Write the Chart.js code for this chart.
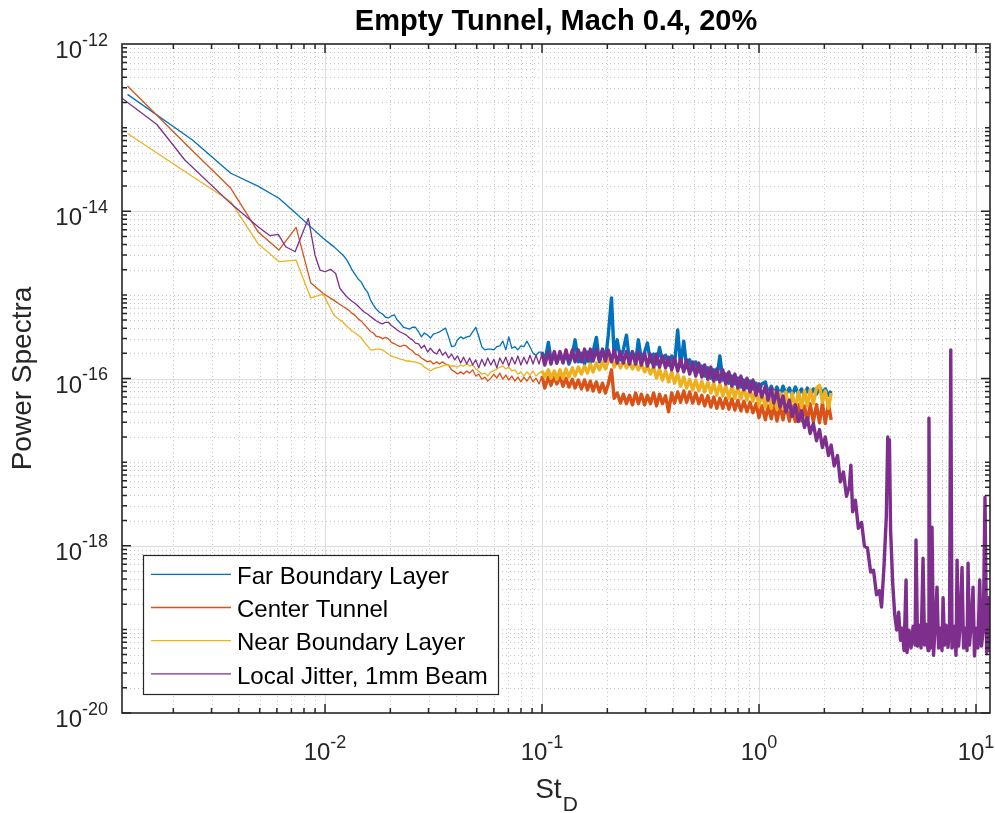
<!DOCTYPE html>
<html>
<head>
<meta charset="utf-8">
<title>Empty Tunnel, Mach 0.4, 20%</title>
<script src="https://cdn.jsdelivr.net/npm/chart.js@4.4.1/dist/chart.umd.min.js"></script>
<style>
  html, body { margin: 0; padding: 0; background: #fff; }
  canvas { display: block; }
</style>
</head>
<body>
<canvas id="spectraChart" width="995" height="813"></canvas>
<script>
// Strouhal number bins shared by the three tunnel probes
const stTunnel = [
  0.00123, 0.00245, 0.00368, 0.00491, 0.00613, 0.00736, 0.00859, 0.00981, 0.0110,
  0.0121, 0.0125, 0.0129, 0.0133, 0.0138, 0.0142, 0.0147, 0.0152, 0.0157, 0.0162,
  0.0167, 0.0172, 0.0178, 0.0184, 0.0190, 0.0196, 0.0202, 0.0209, 0.0215, 0.0222,
  0.0230, 0.0237, 0.0245, 0.0253, 0.0261, 0.0270, 0.0278, 0.0287, 0.0297, 0.0306,
  0.0316, 0.0327, 0.0337, 0.0348, 0.0359, 0.0371, 0.0383, 0.0396, 0.0408, 0.0422,
  0.0435, 0.0450, 0.0464, 0.0479, 0.0495, 0.0511, 0.0528, 0.0545, 0.0562, 0.0581,
  0.0600, 0.0619, 0.0639, 0.0660, 0.0681, 0.0703, 0.0726, 0.0750, 0.0774, 0.0799,
  0.0825, 0.0852, 0.0880, 0.0909, 0.0938, 0.0969,
  0.100, 0.103, 0.107, 0.110, 0.114, 0.117, 0.121, 0.125, 0.129, 0.133,
  0.138, 0.142, 0.147, 0.152, 0.157, 0.162, 0.167, 0.172, 0.178, 0.184,
  0.190, 0.196, 0.202, 0.209, 0.215, 0.222, 0.230, 0.237, 0.245, 0.253,
  0.261, 0.270, 0.278, 0.287, 0.297, 0.306, 0.316, 0.327, 0.337, 0.348,
  0.359, 0.371, 0.383, 0.396, 0.408, 0.422, 0.435, 0.450, 0.464, 0.479,
  0.495, 0.511, 0.528, 0.545, 0.562, 0.581, 0.600, 0.619, 0.639, 0.660,
  0.681, 0.703, 0.726, 0.750, 0.774, 0.799, 0.825, 0.852, 0.880, 0.909,
  0.938, 0.969,
  1.00, 1.03, 1.07, 1.10, 1.14, 1.17, 1.21, 1.25, 1.29, 1.33,
  1.38, 1.42, 1.47, 1.52, 1.57, 1.62, 1.67, 1.72, 1.78, 1.84,
  1.90, 1.96, 2.02, 2.09, 2.15
];

const farBoundary = [
  2.5e-13, 7.1e-14, 2.85e-14, 2.0e-14, 1.43e-14, 9.4e-15, 6.5e-15, 4.75e-15, 3.75e-15,
  3.0e-15, 2.7e-15, 2.35e-15, 2.0e-15, 1.73e-15, 1.55e-15, 1.42e-15, 1.2e-15, 1.08e-15, 8.7e-16,
  7.6e-16, 6.8e-16, 6.2e-16, 5.9e-16, 5.4e-16, 5.3e-16, 5.6e-16, 5.75e-16, 5.0e-16, 4.6e-16,
  4.1e-16, 4.0e-16, 3.9e-16, 4.1e-16, 4.1e-16, 3.6e-16, 3.15e-16, 3.5e-16, 3.3e-16, 3.05e-16,
  3.4e-16, 3.5e-16, 3.6e-16, 3.8e-16, 4.0e-16, 3.15e-16, 2.4e-16, 2.45e-16, 2.9e-16, 3.15e-16,
  3.0e-16, 3.15e-16, 3.2e-16, 3.6e-16, 4.1e-16, 3.2e-16, 2.4e-16, 2.2e-16, 2.25e-16, 2.25e-16,
  2.2e-16, 2.4e-16, 2.45e-16, 2.8e-16, 2.2e-16, 3.15e-16, 2.3e-16, 2.4e-16, 2.2e-16, 2.45e-16,
  2.4e-16, 2.8e-16, 2.4e-16, 2.0e-16, 1.9e-16, 2.07e-16,
  2.07e-16, 1.58e-16, 2.7e-16, 1.67e-16, 2.0e-16, 1.53e-16, 1.96e-16, 1.58e-16, 2.07e-16, 1.49e-16,
  1.9e-16, 2.9e-16, 1.58e-16, 2.0e-16, 1.49e-16, 2.07e-16, 1.53e-16, 2.1e-16, 3.1e-16, 1.58e-16,
  2.2e-16, 1.62e-16, 3.3e-16, 9.2e-16, 1.86e-16, 2.9e-16, 1.67e-16, 2.2e-16, 3.3e-16, 1.62e-16,
  2.1e-16, 1.58e-16, 2.9e-16, 1.67e-16, 2.07e-16, 2.65e-16, 1.58e-16, 1.96e-16, 1.49e-16, 2.35e-16,
  1.58e-16, 1.9e-16, 1.45e-16, 1.86e-16, 1.49e-16, 3.8e-16, 1.41e-16, 2.8e-16, 1.34e-16, 1.67e-16,
  1.27e-16, 1.58e-16, 1.2e-16, 1.41e-16, 1.07e-16, 1.34e-16, 1.01e-16, 1.27e-16, 9.8e-17, 1.86e-16,
  9.6e-17, 1.13e-16, 8.8e-17, 1.07e-16, 8.6e-17, 1.01e-16, 7.9e-17, 9.6e-17, 7.7e-17, 9.3e-17,
  7.5e-17, 8.8e-17,
  7.1e-17, 8.6e-17, 9.1e-17, 6.7e-17, 8.1e-17, 6.5e-17, 7.9e-17, 6.3e-17, 8.1e-17, 6.5e-17,
  7.7e-17, 6.3e-17, 7.9e-17, 6.5e-17, 7.5e-17, 6.2e-17, 7.7e-17, 6.3e-17, 7.5e-17, 6.5e-17,
  7.9e-17, 6.7e-17, 7.5e-17, 6.3e-17, 7.1e-17
];

const centerTunnel = [
  3.15e-13, 5.3e-14, 1.88e-14, 5.7e-15, 3.43e-15, 6.4e-15, 1.4e-15, 1.04e-15, 8.6e-16,
  7.25e-16, 6.9e-16, 6.5e-16, 6.05e-16, 5.65e-16, 5.2e-16, 4.85e-16, 4.4e-16, 4.0e-16, 3.65e-16,
  3.5e-16, 3.2e-16, 3.15e-16, 3.0e-16, 3.1e-16, 3.0e-16, 2.7e-16, 2.6e-16, 2.5e-16, 2.4e-16,
  2.5e-16, 2.45e-16, 2.25e-16, 2.15e-16, 1.96e-16, 1.9e-16, 1.76e-16, 1.67e-16, 1.58e-16, 1.62e-16,
  1.49e-16, 1.58e-16, 1.49e-16, 1.58e-16, 1.49e-16, 1.45e-16, 1.27e-16, 1.2e-16, 1.13e-16, 1.2e-16,
  1.13e-16, 1.23e-16, 1.16e-16, 1.27e-16, 1.07e-16, 1.13e-16, 9.8e-17, 1.04e-16, 9.3e-17, 1.01e-16,
  1.13e-16, 1.01e-16, 1.16e-16, 9.8e-17, 1.1e-16, 9.6e-17, 1.07e-16, 9.3e-17, 1.04e-16, 9.1e-17,
  1.04e-16, 9.3e-17, 1.07e-16, 9.1e-17, 1.01e-16, 8.6e-17,
  1.07e-16, 7.7e-17, 1.04e-16, 8.3e-17, 1.07e-16, 8.6e-17, 1.04e-16, 8.1e-17, 1.01e-16, 7.9e-17,
  9.8e-17, 7.7e-17, 9.6e-17, 7.5e-17, 9.6e-17, 7.3e-17, 9.3e-17, 7.1e-17, 9.1e-17, 6.9e-17,
  8.8e-17, 6.7e-17, 8.6e-17, 1.27e-16, 5.8e-17, 6.7e-17, 5.1e-17, 6.5e-17, 5.0e-17, 6.3e-17,
  4.85e-17, 6.7e-17, 5.0e-17, 6.5e-17, 4.85e-17, 6.3e-17, 5.0e-17, 6.7e-17, 4.7e-17, 6.5e-17,
  5.0e-17, 6.2e-17, 4.0e-17, 6.7e-17, 5.1e-17, 6.9e-17, 5.2e-17, 7.1e-17, 5.2e-17, 6.9e-17,
  5.1e-17, 6.7e-17, 5.0e-17, 6.3e-17, 4.7e-17, 6.2e-17, 4.55e-17, 6.0e-17, 4.4e-17, 5.8e-17,
  4.4e-17, 5.8e-17, 4.3e-17, 5.7e-17, 4.2e-17, 5.5e-17, 4.1e-17, 5.35e-17, 4.0e-17, 5.2e-17,
  3.9e-17, 5.0e-17,
  3.4e-17, 4.7e-17, 3.2e-17, 4.7e-17, 3.3e-17, 4.85e-17, 3.1e-17, 4.7e-17, 3.2e-17, 4.85e-17,
  3.1e-17, 4.7e-17, 3.05e-17, 4.85e-17, 3.1e-17, 4.7e-17, 2.95e-17, 5.0e-17, 3.05e-17, 4.85e-17,
  2.95e-17, 5.1e-17, 2.9e-17, 5.0e-17, 3.2e-17
];

const nearBoundary = [
  8.5e-14, 2.6e-14, 1.3e-14, 4.1e-15, 2.5e-15, 2.6e-15, 9.2e-16, 1.02e-15, 5.7e-16,
  4.7e-16, 4.3e-16, 4.0e-16, 3.7e-16, 3.5e-16, 3.3e-16, 3.05e-16, 2.7e-16, 2.45e-16, 2.2e-16,
  2.2e-16, 2.25e-16, 2.25e-16, 2.2e-16, 2.07e-16, 1.96e-16, 1.86e-16, 1.8e-16, 1.76e-16, 1.7e-16,
  1.67e-16, 1.62e-16, 1.62e-16, 1.58e-16, 1.58e-16, 1.53e-16, 1.49e-16, 1.37e-16, 1.3e-16, 1.23e-16,
  1.3e-16, 1.34e-16, 1.37e-16, 1.41e-16, 1.45e-16, 1.45e-16, 1.41e-16, 1.41e-16, 1.37e-16, 1.45e-16,
  1.41e-16, 1.49e-16, 1.41e-16, 1.45e-16, 1.3e-16, 1.23e-16, 1.13e-16, 1.16e-16, 1.07e-16, 1.2e-16,
  1.23e-16, 1.3e-16, 1.37e-16, 1.41e-16, 1.3e-16, 1.37e-16, 1.23e-16, 1.27e-16, 1.13e-16, 1.2e-16,
  1.07e-16, 1.2e-16, 1.1e-16, 1.23e-16, 1.07e-16, 1.16e-16,
  1.23e-16, 1.04e-16, 1.27e-16, 1.01e-16, 1.23e-16, 9.8e-17, 1.27e-16, 1.01e-16, 1.3e-16, 1.04e-16,
  1.34e-16, 1.07e-16, 1.37e-16, 1.13e-16, 1.41e-16, 1.16e-16, 1.49e-16, 1.2e-16, 1.53e-16, 1.27e-16,
  1.58e-16, 1.3e-16, 1.62e-16, 1.86e-16, 1.37e-16, 1.67e-16, 1.34e-16, 1.62e-16, 1.34e-16, 1.58e-16,
  1.3e-16, 1.53e-16, 1.27e-16, 1.49e-16, 1.2e-16, 1.41e-16, 1.13e-16, 1.37e-16, 1.01e-16, 1.3e-16,
  9.6e-17, 1.23e-16, 9.1e-17, 1.2e-16, 8.8e-17, 1.13e-16, 8.1e-17, 1.04e-16, 7.7e-17, 9.8e-17,
  7.3e-17, 9.6e-17, 7.1e-17, 9.3e-17, 6.9e-17, 9.1e-17, 6.7e-17, 8.8e-17, 6.3e-17, 8.6e-17,
  6.2e-17, 8.3e-17, 5.8e-17, 8.1e-17, 5.8e-17, 7.9e-17, 5.7e-17, 7.7e-17, 5.5e-17, 7.5e-17,
  5.35e-17, 7.3e-17,
  4.7e-17, 6.9e-17, 4.55e-17, 6.7e-17, 4.4e-17, 6.9e-17, 4.3e-17, 6.7e-17, 4.4e-17, 6.9e-17,
  4.3e-17, 6.7e-17, 4.4e-17, 6.9e-17, 4.55e-17, 7.1e-17, 4.7e-17, 7.3e-17, 5.0e-17, 7.7e-17,
  8.3e-17, 5.2e-17, 7.1e-17, 4.4e-17, 6.7e-17
];

// beam jitter was sampled on its own frequency grid and runs out to St = 11.7
const stJitter = [
  0.00116, 0.00168, 0.00226, 0.00365, 0.00493, 0.00558, 0.00609, 0.00659, 0.00728, 0.00838,
  0.00899, 0.00948, 0.0100, 0.0106, 0.0112, 0.0117,
  0.0125, 0.0129, 0.0133, 0.0138, 0.0142, 0.0147, 0.0152, 0.0157, 0.0162,
  0.0167, 0.0172, 0.0178, 0.0184, 0.0190, 0.0196, 0.0202, 0.0209, 0.0215, 0.0222,
  0.0230, 0.0237, 0.0245, 0.0253, 0.0261, 0.0270, 0.0278, 0.0287, 0.0297, 0.0306,
  0.0316, 0.0327, 0.0337, 0.0348, 0.0359, 0.0371, 0.0383, 0.0396, 0.0408, 0.0422,
  0.0435, 0.0450, 0.0464, 0.0479, 0.0495, 0.0511, 0.0528, 0.0545, 0.0562, 0.0581,
  0.0600, 0.0619, 0.0639, 0.0660, 0.0681, 0.0703, 0.0726, 0.0750, 0.0774, 0.0799,
  0.0825, 0.0852, 0.0880, 0.0909, 0.0938, 0.0969,
  0.100, 0.103, 0.107, 0.110, 0.114, 0.117, 0.121, 0.125, 0.129, 0.133,
  0.138, 0.142, 0.147, 0.152, 0.157, 0.162, 0.167, 0.172, 0.178, 0.184,
  0.190, 0.196, 0.202, 0.209, 0.215, 0.222, 0.230, 0.237, 0.245, 0.253,
  0.261, 0.270, 0.278, 0.287, 0.297, 0.306, 0.316, 0.327, 0.337, 0.348,
  0.359, 0.371, 0.383, 0.396, 0.408, 0.422, 0.435, 0.450, 0.464, 0.479,
  0.495, 0.511, 0.528, 0.545, 0.562, 0.581, 0.600, 0.619, 0.639, 0.660,
  0.681, 0.703, 0.726, 0.750, 0.774, 0.799, 0.825, 0.852, 0.880, 0.909,
  0.938, 0.969,
  1.00, 1.03, 1.07, 1.10, 1.14, 1.17, 1.21, 1.25, 1.29, 1.33,
  1.38, 1.42, 1.47, 1.52, 1.57, 1.62, 1.67, 1.72, 1.78, 1.84,
  1.90, 1.96, 2.02, 2.09, 2.15, 2.22, 2.30, 2.37, 2.45, 2.53,
  2.61, 2.65,
  2.70, 2.78, 2.87, 2.97, 3.06, 3.16, 3.27, 3.37, 3.48, 3.59,
  3.67, 3.77, 3.86, 3.92, 3.95, 3.99, 4.04, 4.13, 4.22, 4.31, 4.40, 4.49,
  4.56, 4.66, 4.76, 4.81, 4.91, 5.02, 5.13, 5.24, 5.29, 5.38,
  5.46, 5.58, 5.70, 5.79, 5.88, 6.01, 6.07, 6.16, 6.27, 6.37,
  6.47, 6.61, 6.72, 6.83, 6.97, 7.05, 7.16, 7.28, 7.43, 7.55,
  7.65, 7.75, 7.92, 8.09, 8.18, 8.31, 8.44, 8.62, 8.76, 8.90,
  9.09, 9.19, 9.33, 9.48, 9.69, 9.84, 10.0, 10.2, 10.4, 10.6,
  10.8, 11.0, 11.2, 11.4, 11.5, 11.7
];

const localJitter = [
  2.25e-13, 1.09e-13, 4.1e-14, 1.26e-14, 6.5e-15, 5.1e-15, 5.3e-15, 3.76e-15, 3.28e-15, 8.2e-15,
  3.0e-15, 1.98e-15, 1.89e-15, 2.02e-15, 1.8e-15, 1.2e-15,
  9.7e-16, 9.0e-16, 8.4e-16, 7.9e-16, 7.35e-16, 6.7e-16, 6.2e-16, 5.9e-16, 5.5e-16, 5.2e-16,
  4.9e-16, 4.65e-16, 4.5e-16, 4.7e-16, 4.7e-16, 4.3e-16, 4.05e-16, 3.8e-16, 3.6e-16, 3.45e-16,
  3.3e-16, 3.05e-16, 2.9e-16, 2.65e-16, 2.6e-16, 2.3e-16, 2.5e-16, 2.07e-16, 2.3e-16, 2.07e-16,
  1.96e-16, 2.25e-16, 1.9e-16, 2.07e-16, 1.76e-16, 1.96e-16, 1.67e-16, 1.86e-16, 1.53e-16, 1.8e-16,
  1.49e-16, 1.76e-16, 1.45e-16, 1.67e-16, 1.34e-16, 1.7e-16, 1.41e-16, 1.76e-16, 1.45e-16, 1.7e-16,
  1.34e-16, 1.76e-16, 1.49e-16, 1.8e-16, 1.41e-16, 1.8e-16, 1.49e-16, 1.86e-16, 1.45e-16, 1.8e-16,
  1.49e-16, 1.9e-16, 1.49e-16, 1.9e-16, 1.49e-16,
  2.0e-16, 1.45e-16, 2.07e-16, 1.49e-16, 2.1e-16, 1.53e-16, 2.1e-16, 1.53e-16, 2.2e-16, 1.58e-16,
  2.2e-16, 1.58e-16, 2.2e-16, 1.58e-16, 2.25e-16, 1.62e-16, 2.25e-16, 1.62e-16, 2.25e-16, 1.62e-16,
  2.25e-16, 1.62e-16, 2.2e-16, 1.58e-16, 2.2e-16, 1.53e-16, 2.1e-16, 1.53e-16, 2.1e-16, 1.49e-16,
  2.07e-16, 1.49e-16, 2.07e-16, 1.45e-16, 2.0e-16, 1.41e-16, 1.96e-16, 1.37e-16, 1.96e-16, 1.37e-16,
  1.86e-16, 1.34e-16, 1.8e-16, 1.27e-16, 1.76e-16, 1.23e-16, 1.7e-16, 1.2e-16, 1.67e-16, 1.13e-16,
  1.58e-16, 1.07e-16, 1.53e-16, 1.04e-16, 1.45e-16, 9.8e-17, 1.37e-16, 9.3e-17, 1.3e-16, 9.1e-17,
  1.27e-16, 8.6e-17, 1.2e-16, 8.1e-17, 1.13e-16, 7.7e-17, 1.07e-16, 7.3e-17, 1.01e-16, 6.9e-17,
  9.6e-17, 6.3e-17,
  8.6e-17, 6.0e-17, 8.1e-17, 5.5e-17, 7.7e-17, 5.1e-17, 7.1e-17, 4.55e-17, 6.2e-17, 4.0e-17,
  5.5e-17, 3.5e-17, 4.85e-17, 3.05e-17, 4.1e-17, 2.6e-17, 3.4e-17, 2.2e-17, 2.9e-17, 1.8e-17,
  2.45e-17, 1.49e-17, 2.0e-17, 1.2e-17, 1.6e-17, 9.0e-18, 1.2e-17, 5.8e-18, 7.6e-18, 3.9e-18,
  5.2e-18, 9.2e-18,
  2.55e-18, 3.5e-18, 1.62e-18, 1.9e-18, 9.9e-19, 9.4e-19, 4.85e-19, 5.1e-19, 2.6e-19, 2.9e-19,
  1.85e-19, 5.9e-19, 2.2e-18, 2.0e-17, 8.0e-18, 1.86e-17, 1.54e-18, 3.6e-19, 1.5e-19, 9.8e-20, 1.6e-19, 7.4e-20,
  1.03e-19, 5.6e-20, 3.9e-19, 5.3e-20, 9.8e-20, 6.0e-20, 1.09e-19, 6.5e-20, 1.17e-18, 6.3e-20,
  1.12e-19, 6.0e-20, 7.1e-19, 6.5e-20, 1.15e-19, 5.6e-20, 3.36e-17, 6.0e-20, 1.67e-18, 4.9e-20,
  9.8e-20, 3.2e-19, 6.0e-20, 1.03e-19, 5.6e-20, 2.4e-19, 6.5e-20, 1.12e-19, 6.1e-20, 1.03e-19,
  2.2e-16, 6.0e-20, 1.09e-19, 4.9e-20, 6.7e-19, 6.3e-20, 1.06e-19, 5.5e-19, 6.0e-20, 1.03e-19,
  5.6e-20, 6.2e-19, 6.5e-20, 1.09e-19, 3.2e-19, 4.8e-20, 1.03e-19, 6.0e-20, 3.9e-19, 6.3e-20,
  9.8e-20, 3.8e-18, 5.3e-20, 2.4e-19, 5.6e-20, 8.5e-20
];

const seriesLabels = ['Far Boundary Layer', 'Center Tunnel', 'Near Boundary Layer', 'Local Jitter, 1mm Beam'];
const seriesColors = ['#0072BD', '#D95319', '#EDB120', '#7E2F8E'];

// decade exponents that carry a "10^n" label
const xTickExps = [-2, -1, 0, 1];
const yTickExps = [-20, -18, -16, -14, -12];

const FONT = '"Liberation Sans", Arial, Helvetica, sans-serif';
const INK = '#262626';

const toPoints = (xs, ys) => xs.map((x, i) => ({ x: x, y: ys[i] }));
const snap = v => Math.round(v) + 0.5;

function drawGrid(chart) {
  const { ctx, chartArea: a } = chart;
  const xs = chart.scales.x, ys = chart.scales.y;
  const xLo = Math.floor(Math.log10(xs.min)), xHi = Math.ceil(Math.log10(xs.max));
  const yLo = Math.round(Math.log10(ys.min)), yHi = Math.round(Math.log10(ys.max));
  ctx.save();
  ctx.lineWidth = 1;

  // dotted minor grid
  ctx.strokeStyle = '#c6c6c6';
  ctx.setLineDash([1, 3]);
  ctx.beginPath();
  for (let e = xLo; e <= xHi; e++) {
    for (let m = 2; m <= 9; m++) {
      const px = snap(xs.getPixelForValue(m * Math.pow(10, e)));
      if (px <= a.left + 1 || px >= a.right - 1) continue;
      ctx.moveTo(px, a.top); ctx.lineTo(px, a.bottom);
    }
  }
  for (let e = yLo; e < yHi; e++) {
    for (let m = 1; m <= 9; m++) {
      if (m === 1 && yTickExps.includes(e)) continue;
      const py = snap(ys.getPixelForValue(m * Math.pow(10, e)));
      if (py <= a.top + 1 || py >= a.bottom - 1) continue;
      ctx.moveTo(a.left, py); ctx.lineTo(a.right, py);
    }
  }
  ctx.stroke();

  // solid major grid
  ctx.setLineDash([]);
  ctx.strokeStyle = '#dedede';
  ctx.beginPath();
  xTickExps.forEach(e => {
    const px = snap(xs.getPixelForValue(Math.pow(10, e)));
    if (px > a.left + 1 && px < a.right - 1) { ctx.moveTo(px, a.top); ctx.lineTo(px, a.bottom); }
  });
  yTickExps.forEach(e => {
    const py = snap(ys.getPixelForValue(Math.pow(10, e)));
    if (py > a.top + 1 && py < a.bottom - 1) { ctx.moveTo(a.left, py); ctx.lineTo(a.right, py); }
  });
  ctx.stroke();
  ctx.restore();
}

function drawFrame(chart) {
  const { ctx, chartArea: a } = chart;
  const xs = chart.scales.x, ys = chart.scales.y;
  const xLo = Math.floor(Math.log10(xs.min)), xHi = Math.ceil(Math.log10(xs.max));
  const yLo = Math.round(Math.log10(ys.min)), yHi = Math.round(Math.log10(ys.max));
  ctx.save();
  ctx.strokeStyle = INK;
  ctx.lineWidth = 1.5;
  ctx.beginPath();
  // ticks along bottom and top edges
  for (let e = xLo; e <= xHi; e++) {
    for (let m = 1; m <= 9; m++) {
      const px = xs.getPixelForValue(m * Math.pow(10, e));
      if (px <= a.left + 1 || px >= a.right - 1) continue;
      const len = (m === 1 && xTickExps.includes(e)) ? 9 : 5;
      ctx.moveTo(px, a.bottom); ctx.lineTo(px, a.bottom - len);
      ctx.moveTo(px, a.top); ctx.lineTo(px, a.top + len);
    }
  }
  // ticks along left and right edges
  for (let e = yLo; e < yHi; e++) {
    for (let m = 1; m <= 9; m++) {
      const py = ys.getPixelForValue(m * Math.pow(10, e));
      const len = (m === 1 && yTickExps.includes(e)) ? 9 : 5;
      ctx.moveTo(a.left, py); ctx.lineTo(a.left + len, py);
      ctx.moveTo(a.right, py); ctx.lineTo(a.right - len, py);
    }
  }
  ctx.stroke();
  ctx.lineWidth = 1.6;
  ctx.strokeRect(a.left, a.top, a.right - a.left, a.bottom - a.top);
  ctx.restore();
}

function drawTickLabels(chart) {
  const { ctx, chartArea: a } = chart;
  const xs = chart.scales.x, ys = chart.scales.y;
  const baseFont = '24px ' + FONT, supFont = '18px ' + FONT;
  ctx.save();
  ctx.fillStyle = INK;
  ctx.textBaseline = 'alphabetic';
  ctx.textAlign = 'left';

  xTickExps.forEach(e => {
    const px = xs.getPixelForValue(Math.pow(10, e));
    const sup = String(e);
    ctx.font = baseFont; const w1 = ctx.measureText('10').width;
    ctx.font = supFont; const w2 = ctx.measureText(sup).width;
    const left = px - (w1 + w2) / 2;
    ctx.font = baseFont; ctx.fillText('10', left, a.bottom + 47);
    ctx.font = supFont; ctx.fillText(sup, left + w1, a.bottom + 35);
  });

  yTickExps.forEach(e => {
    const py = ys.getPixelForValue(Math.pow(10, e));
    const sup = String(e);
    const right = a.left - 14;
    ctx.font = supFont; const w2 = ctx.measureText(sup).width;
    ctx.font = baseFont; const w1 = ctx.measureText('10').width;
    ctx.fillText('10', right - w2 - w1, py + 14);
    ctx.font = supFont; ctx.fillText(sup, right - w2, py + 1.5);
  });
  ctx.restore();
}

function drawTexts(chart) {
  const { ctx, chartArea: a } = chart;
  const midX = (a.left + a.right) / 2;
  ctx.save();

  ctx.fillStyle = '#000';
  ctx.font = 'bold 29px ' + FONT;
  ctx.textAlign = 'center';
  ctx.fillText('Empty Tunnel, Mach 0.4, 20%', midX, 30);

  // x label: St with subscript D
  ctx.fillStyle = INK;
  ctx.textAlign = 'left';
  ctx.font = '28px ' + FONT; const wSt = ctx.measureText('St').width;
  ctx.font = '21px ' + FONT; const wD = ctx.measureText('D').width;
  const x0 = midX - (wSt + wD) / 2;
  ctx.font = '28px ' + FONT; ctx.fillText('St', x0, 798);
  ctx.font = '21px ' + FONT; ctx.fillText('D', x0 + wSt + 1, 811);

  // y label
  ctx.translate(31, (a.top + a.bottom) / 2);
  ctx.rotate(-Math.PI / 2);
  ctx.textAlign = 'center';
  ctx.font = '28px ' + FONT;
  ctx.fillText('Power Spectra', 0, 0);
  ctx.restore();
}

function drawLegend(chart) {
  const { ctx } = chart;
  const box = { left: 143, top: 555, width: 355, height: 139 };
  ctx.save();
  ctx.fillStyle = '#fff';
  ctx.fillRect(box.left, box.top, box.width, box.height);
  ctx.strokeStyle = INK;
  ctx.lineWidth = 1.2;
  ctx.strokeRect(box.left + 0.5, box.top + 0.5, box.width, box.height);
  ctx.font = '24px ' + FONT;
  ctx.textAlign = 'left';
  ctx.textBaseline = 'alphabetic';
  chart.data.datasets.forEach((ds, i) => {
    const y = box.top + 19.3 + i * 33.2;
    ctx.strokeStyle = ds.borderColor;
    ctx.lineWidth = 1.3;
    ctx.beginPath();
    ctx.moveTo(box.left + 8, y); ctx.lineTo(box.left + 88, y);
    ctx.stroke();
    ctx.fillStyle = '#000';
    ctx.fillText(ds.label, box.left + 94, y + 9.7);
  });
  ctx.restore();
}

const matlabAxes = {
  id: 'matlabAxes',
  beforeDraw(chart) {
    const { ctx, width, height } = chart;
    ctx.save();
    ctx.fillStyle = '#fff';
    ctx.fillRect(0, 0, width, height);
    ctx.restore();
  },
  beforeDatasetsDraw(chart) { drawGrid(chart); },
  afterDatasetsDraw(chart) {
    drawFrame(chart);
    drawTickLabels(chart);
    drawTexts(chart);
    drawLegend(chart);
  }
};

const seriesX = [stTunnel, stTunnel, stTunnel, stJitter];
const seriesY = [farBoundary, centerTunnel, nearBoundary, localJitter];

// the densely sampled part of each spectrum (St >= 0.1) reads as a solid band
const bandWidth = ctx => (ctx.p0.parsed.x >= 0.1 ? 3.4 : 1.3);

new Chart(document.getElementById('spectraChart'), {
  type: 'line',
  data: {
    datasets: seriesLabels.map((label, i) => ({
      label: label,
      data: toPoints(seriesX[i], seriesY[i]),
      borderColor: seriesColors[i],
      borderWidth: 1.3,
      borderJoinStyle: 'round',
      segment: { borderWidth: bandWidth },
      pointRadius: 0,
      tension: 0,
      fill: false,
      clip: 0,
      order: seriesLabels.length - 1 - i   // later series are drawn on top
    }))
  },
  options: {
    responsive: false,
    animation: false,
    devicePixelRatio: 1,
    layout: { padding: { left: 122, right: 5, top: 44, bottom: 100 } },
    plugins: { legend: { display: false }, title: { display: false }, tooltip: { enabled: false } },
    scales: {
      x: { type: 'logarithmic', min: 0.00116, max: 11.6, display: false },
      y: { type: 'logarithmic', min: 1e-20, max: 1e-12, display: false }
    }
  },
  plugins: [matlabAxes]
});
</script>
</body>
</html>
